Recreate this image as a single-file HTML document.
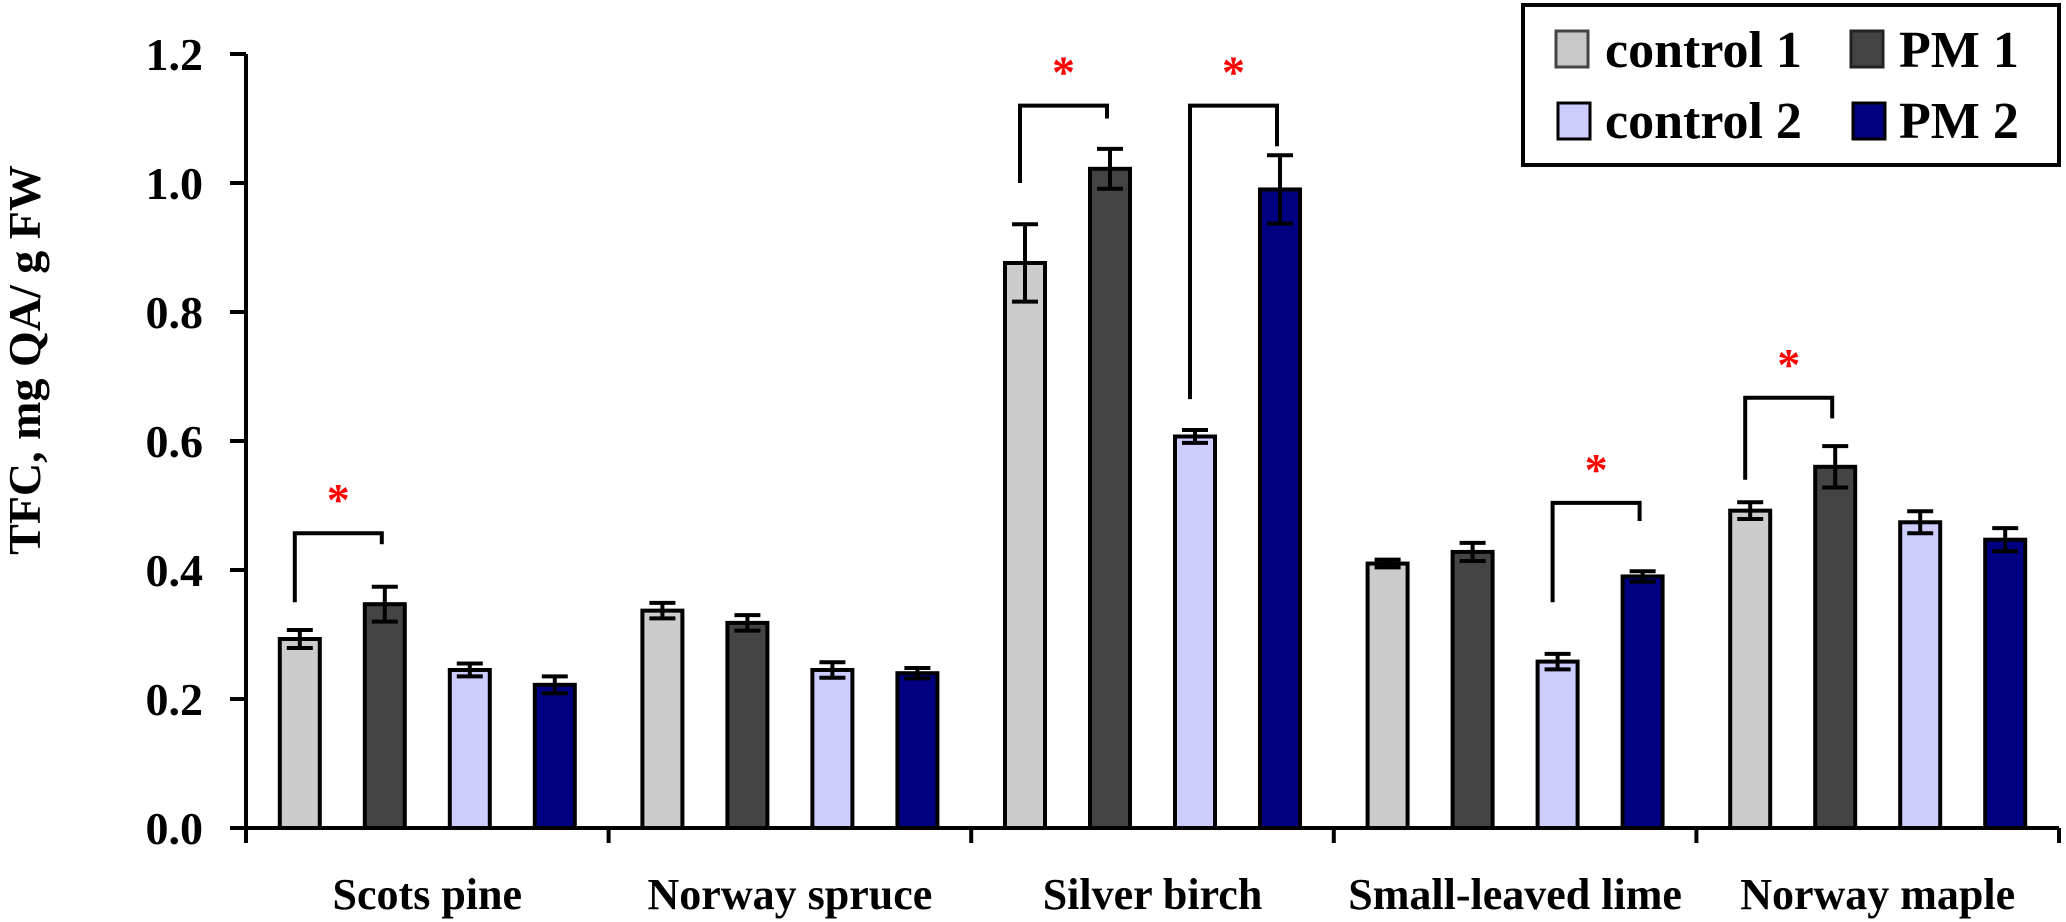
<!DOCTYPE html>
<html><head><meta charset="utf-8"><style>
html,body{margin:0;padding:0;background:#fff;}
svg{display:block;}
svg text{font-family:"Liberation Serif","DejaVu Serif",serif !important;font-weight:bold;}
</style></head><body>
<svg id="chart" width="2066" height="922" viewBox="0 0 2066 922" xmlns="http://www.w3.org/2000/svg" font-family="Liberation Serif, serif" font-weight="bold">
<g id="plot"></g>
<g>
  <rect x="1523" y="5" width="536" height="160" fill="#fff" stroke="#000" stroke-width="4"/>
  <g><rect x="1556" y="31" width="32" height="36" fill="#c8c8c8" stroke="#444" stroke-width="3"/><text x="1605" y="67" font-size="52" font-family="Liberation Serif, serif">control 1</text></g>
  <g><rect x="1851" y="31" width="32" height="36" fill="#444" stroke="#222" stroke-width="3"/><text x="1899" y="67" font-size="52" font-family="Liberation Serif, serif">PM 1</text></g>
  <g><rect x="1558" y="103" width="32" height="36" fill="#ccccff" stroke="#000" stroke-width="3"/><text x="1605" y="138" font-size="52" font-family="Liberation Serif, serif">control 2</text></g>
  <g><rect x="1853" y="103" width="32" height="36" fill="#000080" stroke="#000" stroke-width="3"/><text x="1899" y="138" font-size="52" font-family="Liberation Serif, serif">PM 2</text></g>
</g>
<text transform="translate(40,360) rotate(-90)" text-anchor="middle" font-size="46" font-family="Liberation Serif, serif">TFC, mg QA/ g FW</text>
</svg>
<script>
const categories = ["Scots pine","Norway spruce","Silver birch","Small-leaved lime","Norway maple"];
const seriesNames = ["control 1","PM 1","control 2","PM 2"];
const control1 = [0.293,0.337,0.876,0.410,0.492];
const pm1 = [0.347,0.318,1.022,0.428,0.560];
const control2 = [0.245,0.245,0.607,0.258,0.474];
const pm2 = [0.222,0.240,0.990,0.390,0.447];
const control1Err = [0.014,0.012,0.060,0.006,0.013];
const pm1Err = [0.027,0.012,0.031,0.014,0.032];
const control2Err = [0.010,0.012,0.010,0.012,0.017];
const pm2Err = [0.013,0.008,0.053,0.008,0.018];
const yTicks = ["0.0","0.2","0.4","0.6","0.8","1.0","1.2"];
const sigCategory = [0,2,2,3,4];
const sigSeriesA = [0,0,2,2,0];
const sigSeriesB = [1,1,3,3,1];
const sigLevel = [0.457,1.12,1.12,0.504,0.667];
const sigLegA = [0.35,1.0,0.665,0.35,0.54];
const sigLegB = [0.44,1.10,1.057,0.476,0.635];

const NS="http://www.w3.org/2000/svg";
const plot=document.getElementById('plot');
const X0=246,X1=2059,Y0=828,Y1=54,YMAX=1.2;
const groupW=(X1-X0)/categories.length;
const barW=40,barGap=45,pad=(groupW-4*barW-3*barGap)/2;
const y=v=>Y0-(v/YMAX)*(Y0-Y1);
const barX=(c,s)=>X0+c*groupW+pad+s*(barW+barGap);
function mk(t,a){const e=document.createElementNS(NS,t);for(const k in a)e.setAttribute(k,a[k]);if(t==='text'){e.setAttribute('font-family','Liberation Serif, serif');e.setAttribute('font-weight','bold');}plot.appendChild(e);return e;}
const vals=[control1,pm1,control2,pm2];
const errs=[control1Err,pm1Err,control2Err,pm2Err];
const fills=["#cccccc","#444444","#ccccff","#000080"];
yTicks.forEach(t=>{
  const yy=y(parseFloat(t));
  const l=mk('line',{x1:230,x2:X0,y1:yy,y2:yy,stroke:'#000','stroke-width':4});
  
  
  const tx=mk('text',{x:203,y:yy+16,'text-anchor':'end','font-size':46});
  tx.textContent=t;
  
  
});
categories.forEach((cat,c)=>{
  for(let s=0;s<4;s++){
    const v=vals[s][c],e=errs[s][c],bx=barX(c,s);
    const r=mk('rect',{x:bx,y:y(v),width:barW,height:Y0-y(v),fill:fills[s],stroke:'#000','stroke-width':4});
    
    
    const cx=bx+barW/2;
    const eb=mk('path',{d:`M${cx},${y(v-e)}V${y(v+e)}M${cx-13},${y(v-e)}H${cx+13}M${cx-13},${y(v+e)}H${cx+13}`,stroke:'#000','stroke-width':4,fill:'none'});
    
    
  }
  const tx=mk('text',{x:X0+(c+0.5)*groupW,y:909,'text-anchor':'middle','font-size':44});
  tx.textContent=cat;
  
  
});
const ax=mk('path',{d:`M${X0},${Y1}V${Y0+15}M${X0-16},${Y0}H${X1}`,stroke:'#000','stroke-width':4,fill:'none'});


for(let i=1;i<=categories.length;i++){
  const gx=X0+i*groupW;
  const t=mk('line',{x1:gx,x2:gx,y1:Y0,y2:Y0+15,stroke:'#000','stroke-width':4});
  
  
}
sigCategory.forEach((c,i)=>{
  const ax1=barX(c,sigSeriesA[i])+barW/2-5, ax2=barX(c,sigSeriesB[i])+barW/2-3;
  const b=mk('path',{d:`M${ax1},${y(sigLegA[i])}V${y(sigLevel[i])}H${ax2}V${y(sigLegB[i])}`,stroke:'#000','stroke-width':4,fill:'none'});
  
  
  const st=mk('text',{x:(ax1+ax2)/2,y:y(sigLevel[i])-18,'text-anchor':'middle','font-size':46,fill:'#ff0000'});
  st.textContent='*';
  
  
});
</script>
</body></html>
